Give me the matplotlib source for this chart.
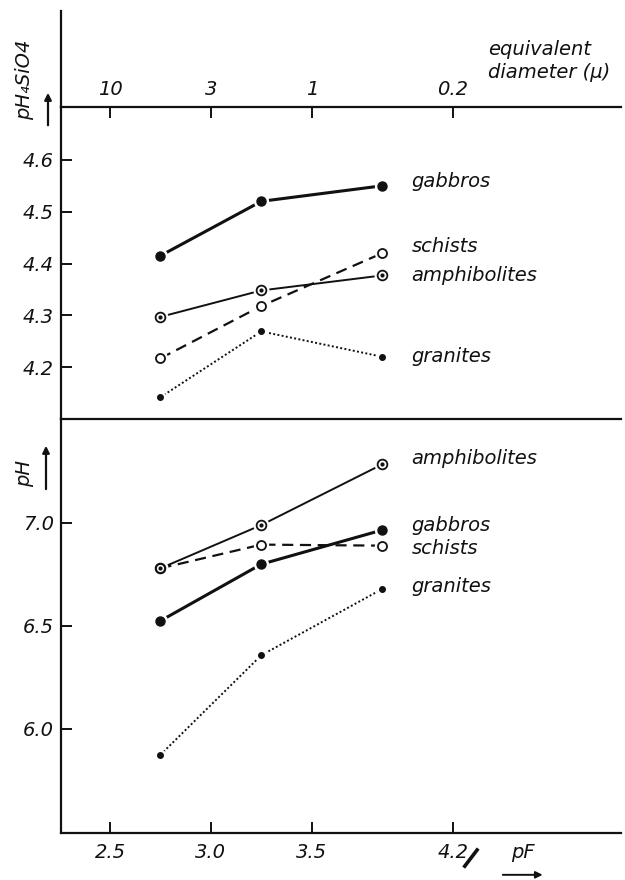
import matplotlib
matplotlib.use('Agg')
import matplotlib.pyplot as plt
from matplotlib.lines import Line2D
from matplotlib.patches import FancyArrowPatch

# x positions: middle of the pF fractions
pf = [2.75, 3.25, 3.85]
pf_ticks = [2.5, 3.0, 3.5, 4.2]
pf_labels = ['2.5', '3.0', '3.5', '4.2']
diam_labels = ['10', '3', '1', '0.2']

# upper panel, pH4SiO4
sio4_gabbros = [4.415, 4.52, 4.55]
sio4_schists = [4.217, 4.318, 4.42]
sio4_amphibolites = [4.297, 4.348, 4.377]
sio4_granites = [4.142, 4.269, 4.22]

# lower panel, pH
ph_amphibolites = [6.78, 6.99, 7.285]
ph_gabbros = [6.525, 6.80, 6.966]
ph_schists = [6.78, 6.895, 6.89]
ph_granites = [5.875, 6.358, 6.68]

INK = '#111111'
plt.rcParams['font.family'] = ['DejaVu Sans']
plt.rcParams['font.style'] = 'italic'
plt.rcParams['font.size'] = 14

style = {
    'gabbros': dict(ls='-', lw=2.2, marker='o', ms=6.5, mfc=INK, mec=INK),
    'amphibolites': dict(ls='-', lw=1.4, marker='o', ms=7, mfc='white', mec=INK, mew=1.3),
    'schists': dict(ls=(0, (5, 3)), lw=1.6, marker='o', ms=6.5, mfc='white', mec=INK, mew=1.3),
    'granites': dict(ls=(0, (1, 1.2)), lw=1.4, marker='o', ms=4, mfc=INK, mec=INK),
}


def draw(ax, series, offsets):
    for name, vals in series.items():
        st = dict(style[name])
        # line first, then a white halo so the line stops short of the marker
        ax.plot(pf, vals, color=INK, ls=st['ls'], lw=st['lw'], zorder=2)
        ax.plot(pf, vals, ls='none', marker='o', ms=st['ms'] + 3.5,
                mfc='white', mec='white', zorder=3)
        ax.plot(pf, vals, ls='none', marker='o', ms=st['ms'], mfc=st['mfc'],
                mec=st['mec'], mew=st.get('mew', 1), zorder=4)
        if name == 'amphibolites':
            ax.plot(pf, vals, ls='none', marker='o', ms=2, color=INK, zorder=5)
        ax.annotate(name, (pf[-1], vals[-1]), xytext=(21, offsets[name]),
                    textcoords='offset points', va='center', ha='left',
                    fontsize=14, color=INK)


def style_axes(ax):
    for s in ['left', 'top', 'bottom', 'right']:
        ax.spines[s].set_linewidth(1.6)
        ax.spines[s].set_color(INK)
    ax.spines['right'].set_visible(False)
    ax.tick_params(direction='in', length=8, width=1.4, colors=INK, labelsize=14)
    ax.set_xlim(2.257, 5.033)


fig = plt.figure(figsize=(6.25, 8.8), dpi=100)
ax1 = fig.add_axes([0.0976, 0.5239, 0.896, 0.3545])
ax2 = fig.add_axes([0.0976, 0.0534, 0.896, 0.4705])

# upper panel
style_axes(ax1)
ax1.spines['bottom'].set_visible(False)
ax1.set_ylim(4.1, 4.702)
ax1.set_yticks([4.2, 4.3, 4.4, 4.5, 4.6])
ax1.set_yticklabels(['4.2', '4.3', '4.4', '4.5', '4.6'])
ax1.set_xticks(pf_ticks)
ax1.set_xticklabels(diam_labels)
ax1.tick_params(axis='x', top=True, bottom=False, labeltop=True, labelbottom=False, pad=6)
ax1.tick_params(axis='y', pad=5)
draw(ax1, {'gabbros': sio4_gabbros, 'schists': sio4_schists,
           'amphibolites': sio4_amphibolites, 'granites': sio4_granites},
     {'gabbros': 3, 'schists': 5, 'amphibolites': 0, 'granites': 0})

# lower panel
style_axes(ax2)
ax2.set_ylim(5.495, 7.505)
ax2.set_yticks([6.0, 6.5, 7.0])
ax2.set_yticklabels(['6.0', '6.5', '7.0'])
ax2.set_xticks(pf_ticks)
ax2.set_xticklabels(pf_labels)
ax2.tick_params(axis='x', pad=7)
ax2.tick_params(axis='y', pad=5)
draw(ax2, {'amphibolites': ph_amphibolites, 'gabbros': ph_gabbros,
           'schists': ph_schists, 'granites': ph_granites},
     {'amphibolites': 4, 'gabbros': 3, 'schists': -2, 'granites': 2})

# left axis line runs on above the top scale
fig.add_artist(Line2D([0.0976, 0.0976], [0.878, 0.987], color=INK, lw=1.6))

# axis titles
ax1.text(0.7625, 1.147, 'equivalent\ndiameter (\u03bc)', transform=ax1.transAxes,
         ha='left', va='center', fontsize=14, color=INK, linespacing=1.25)
fig.text(0.04, 0.909, 'pH\u2084SiO4', rotation=90, ha='center', va='center',
         fontsize=14, color=INK)
fig.patches.append(FancyArrowPatch(
    (0.0768, 0.8545), (0.0768, 0.8977), transform=fig.transFigure,
    arrowstyle='-|>', mutation_scale=10, lw=1.6, color=INK))
fig.text(0.04, 0.4625, 'pH', rotation=90, ha='center', va='center',
         fontsize=14, color=INK)
fig.patches.append(FancyArrowPatch(
    (0.0736, 0.441), (0.0736, 0.4966), transform=fig.transFigure,
    arrowstyle='-|>', mutation_scale=10, lw=1.6, color=INK))

ax2.text(0.825, -0.048, 'pF', transform=ax2.transAxes, ha='center', va='center',
         fontsize=14, color=INK)
ax2.annotate('', xy=(0.865, -0.101), xytext=(0.784, -0.101), xycoords='axes fraction',
             arrowprops=dict(arrowstyle='-|>', lw=1.4, color=INK, mutation_scale=10))
# break mark after 4.2
ax2.add_line(Line2D([0.721, 0.743], [-0.080, -0.041], transform=ax2.transAxes,
                    color=INK, lw=2.6, clip_on=False))

fig.savefig('out.png', dpi=100, facecolor='white')
